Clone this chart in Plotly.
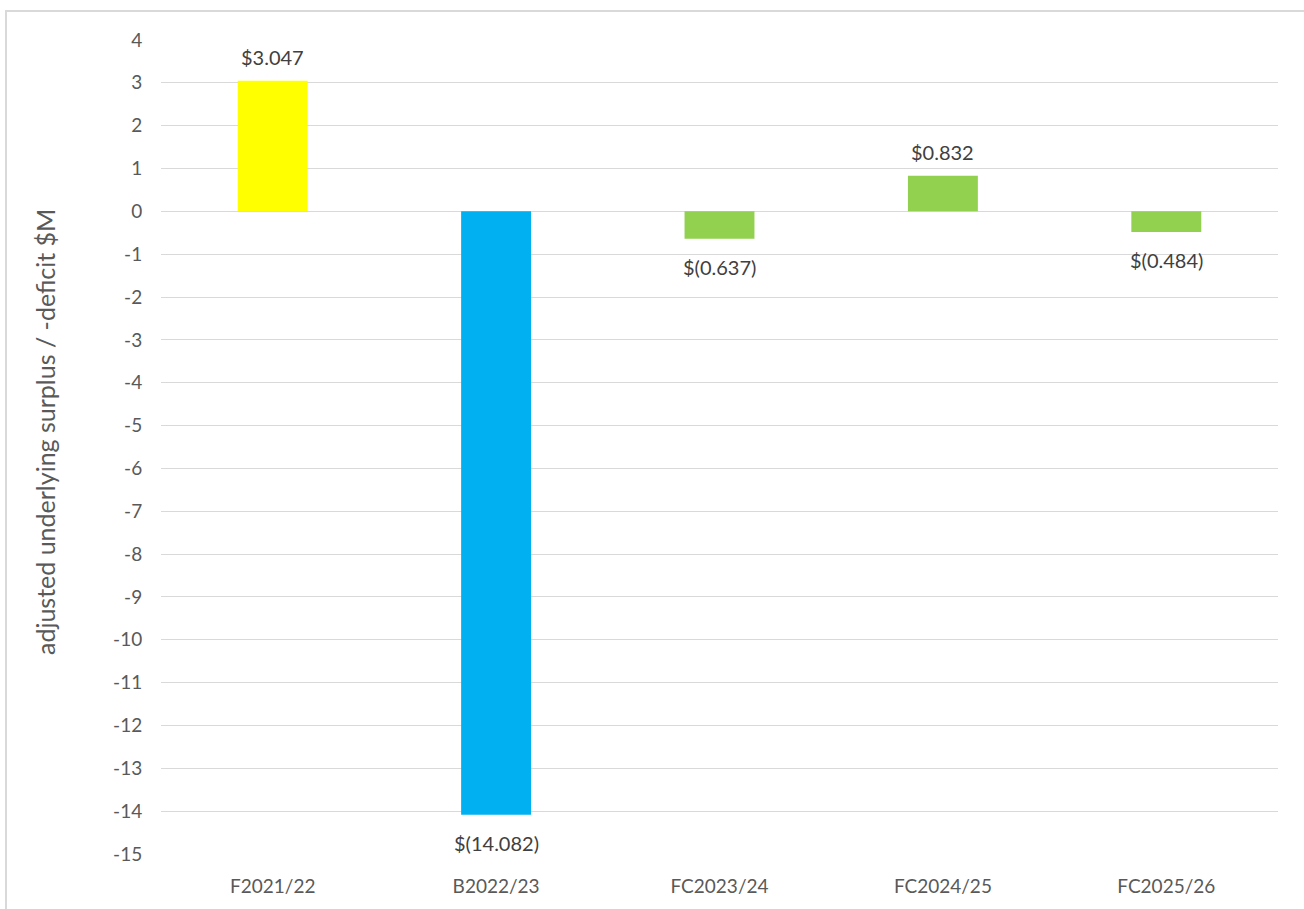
import plotly.graph_objects as go

categories = ["F2021/22", "B2022/23", "FC2023/24", "FC2024/25", "FC2025/26"]
values = [3.047, -14.082, -0.637, 0.832, -0.484]
labels = ["$3.047", "$(14.082)", "$(0.637)", "$0.832", "$(0.484)"]
colors = ["#FFFF00", "#00B0F0", "#92D050", "#92D050", "#92D050"]
y_ticks = list(range(-15, 5))
y_tick_text = [str(v) for v in y_ticks]  # plain hyphen minus
y_title = "adjusted underlying surplus / -deficit $M"

L, R, T, B = 161, 26, 40, 53
W, H = 1304, 909
pw, ph = W - L - R, H - T - B
FONT = "Lato, Open Sans, sans-serif"

fig = go.Figure(go.Bar(
    x=categories, y=values,
    marker=dict(color=colors, line=dict(width=0)),
    hoverinfo="skip"
))

for c, v, t in zip(categories, values, labels):
    fig.add_annotation(x=c, y=v, text=t, showarrow=False,
                       yshift=24 if v >= 0 else -28,
                       font=dict(family=FONT, size=20, color="#404040"))

# y-axis title
fig.add_annotation(xref="paper", yref="paper", x=(45 - L) / pw, y=(H - B - 433) / ph,
                   text=y_title, textangle=-90, showarrow=False,
                   xanchor="center", yanchor="middle",
                   font=dict(family=FONT, size=25, color="#595959"))

fig.update_layout(
    width=W, height=H,
    margin=dict(l=L, r=R, t=T, b=B),
    paper_bgcolor="white", plot_bgcolor="white",
    bargap=0.687, showlegend=False,
    font=dict(family=FONT, color="#595959", size=19),
)
fig.update_yaxes(
    range=[-15, 4], tickvals=y_ticks, ticktext=y_tick_text,
    showgrid=True, gridcolor="#d9d9d9", gridwidth=1,
    zeroline=True, zerolinecolor="#d9d9d9", zerolinewidth=1, showline=False,
    ticks="outside", ticklen=14, tickcolor="rgba(0,0,0,0)",
    tickfont=dict(size=19, color="#595959"),
)
fig.update_xaxes(
    showgrid=False, showline=False, ticks="outside", ticklen=15, tickcolor="rgba(0,0,0,0)",
    tickfont=dict(size=19, color="#595959"),
)
# outer chart border
fig.add_shape(type="rect", xref="paper", yref="paper",
              x0=(6 - L) / pw, x1=(W + 20 - L) / pw,
              y0=-(B + 20) / ph, y1=(H - B - 11) / ph,
              line=dict(color="#d9d9d9", width=2), fillcolor="rgba(0,0,0,0)", layer="below")

fig.write_html("out.html")
